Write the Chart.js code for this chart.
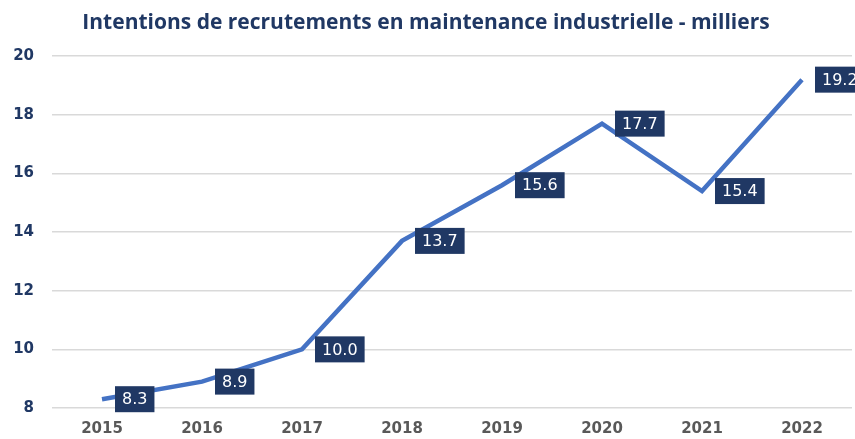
<!DOCTYPE html>
<html>
<head>
<meta charset="utf-8">
<script src="https://cdn.jsdelivr.net/npm/chart.js@4"></script>
<style>
  body { margin: 0; background: #fff; }
  #wrap { width: 855px; height: 439px; }
</style>
</head>
<body>
<div id="wrap"><canvas id="myChart"></canvas></div>
<script>
var years = ['2015', '2016', '2017', '2018', '2019', '2020', '2021', '2022'];
var recrutements = [8.3, 8.9, 10.0, 13.7, 15.6, 17.7, 15.4, 19.2];
var yTicks = [8, 10, 12, 14, 16, 18, 20];

var navy = '#203864';

// boxes with the value, to the right of each point
var valueLabels = {
    id: 'valueLabels',
    afterDatasetsDraw: function (chart) {
        var ctx = chart.ctx;
        var meta = chart.getDatasetMeta(0);
        var data = chart.data.datasets[0].data;
        ctx.save();
        ctx.font = '16px "DejaVu Sans"';
        ctx.textBaseline = 'middle';
        ctx.textAlign = 'left';
        meta.data.forEach(function (pt, i) {
            var txt = data[i].toFixed(1);
            var w = ctx.measureText(txt).width + 14;
            var h = 26;
            var bx = pt.x + 13;
            var by = pt.y - h / 2;
            ctx.fillStyle = navy;
            ctx.fillRect(bx, by, w, h);
            ctx.fillStyle = '#ffffff';
            ctx.fillText(txt, bx + 7, pt.y + 1);
        });
        ctx.restore();
    }
};

new Chart(document.getElementById('myChart'), {
    type: 'line',
    data: {
        labels: years,
        datasets: [{
            data: recrutements,
            borderColor: '#4472C4',
            borderWidth: 4.5,
            pointRadius: 0,
            tension: 0,
            fill: false
        }]
    },
    options: {
        responsive: true,
        maintainAspectRatio: false,
        animation: false,
        layout: { padding: { left: 0, right: 3, top: 1, bottom: 0 } },
        plugins: {
            legend: { display: false },
            tooltip: { enabled: false },
            title: {
                display: true,
                text: 'Intentions de recrutements en maintenance industrielle - milliers',
                color: navy,
                font: { family: '"Open Sans"', size: 21, weight: 'bold' },
                padding: { top: 9, bottom: 21 }
            }
        },
        scales: {
            x: {
                offset: true,
                grid: { display: false, drawTicks: false },
                border: { display: false },
                ticks: {
                    color: '#595959',
                    font: { family: '"DejaVu Sans"', size: 15, weight: 'bold' },
                    padding: 12
                },
                afterFit: function (scale) { scale.height = 31; }
            },
            y: {
                min: yTicks[0],
                max: yTicks[yTicks.length - 1],
                afterBuildTicks: function (scale) {
                    scale.ticks = yTicks.map(function (v) { return { value: v }; });
                },
                grid: { color: '#d9d9d9', lineWidth: 1.5, drawTicks: false },
                border: { display: false },
                ticks: {
                    color: navy,
                    font: { family: '"DejaVu Sans"', size: 15, weight: 'bold' },
                    padding: 18
                },
                afterFit: function (scale) { scale.width = 52; }
            }
        }
    },
    plugins: [valueLabels]
});
</script>
</body>
</html>
